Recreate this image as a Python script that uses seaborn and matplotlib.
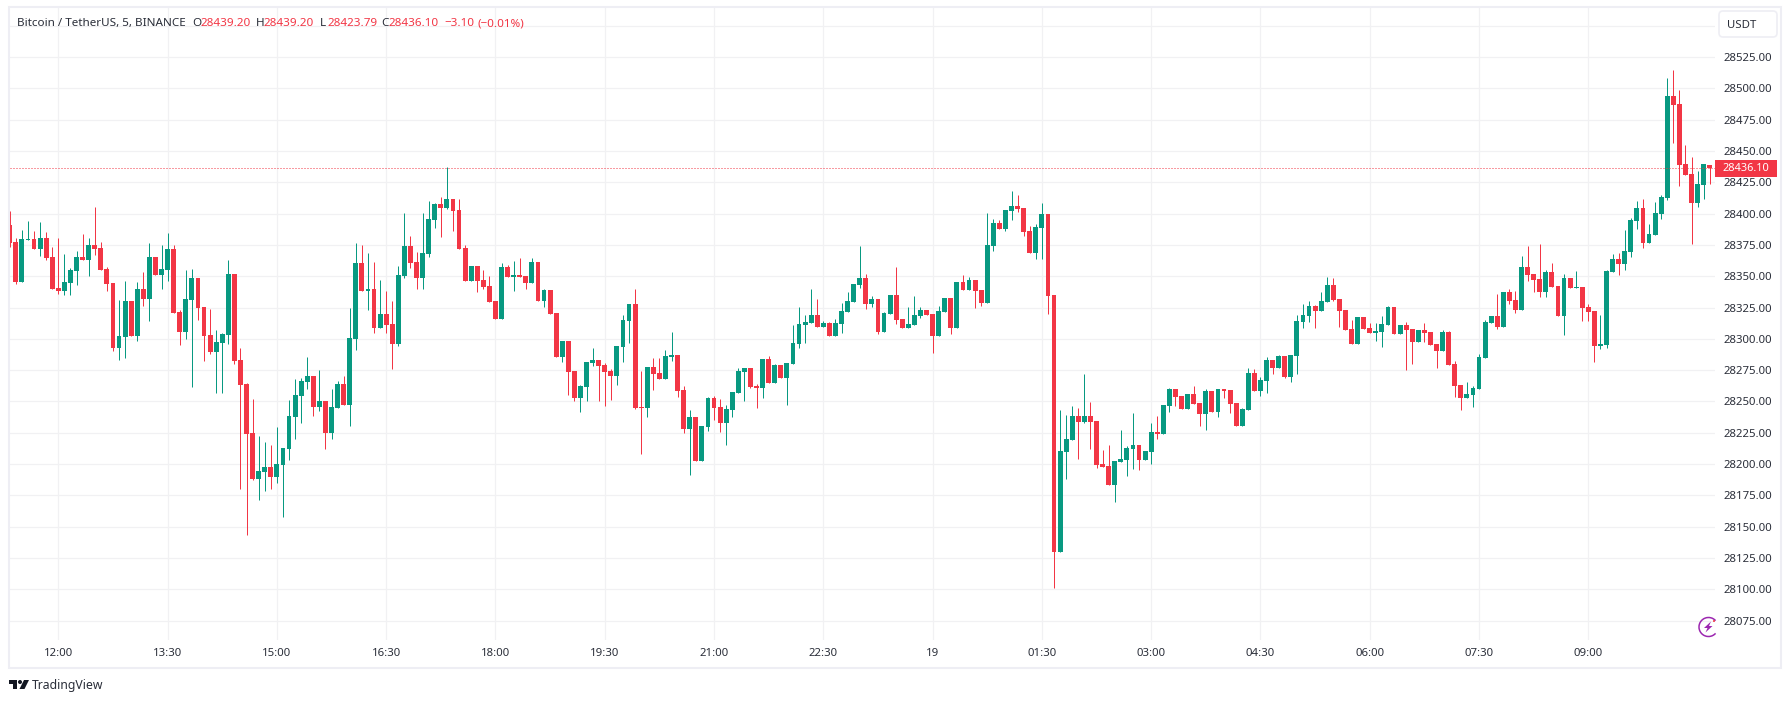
import numpy as np
import pandas as pd
import matplotlib
matplotlib.use("Agg")
import matplotlib.pyplot as plt
from matplotlib.patches import Arc, FancyBboxPatch, Polygon, Rectangle, Circle
import seaborn as sns

# 5 minute candles, first one is cut by the left edge
first_bar = -8

opens = [
    28390.9, 28377.3, 28345.4, 28378.9, 28379.7, 28371.8, 28380.5, 28365.4, 28340.6, 28338.2,
    28344.6, 28354.2, 28365.4, 28363.0, 28375.0, 28372.6, 28355.8, 28344.6, 28292.7, 28301.5,
    28330.2, 28302.3, 28339.8, 28331.8, 28365.4, 28351.0, 28355.0, 28371.8, 28321.4, 28305.5,
    28331.1, 28348.6, 28325.4, 28303.1, 28289.5, 28296.7, 28303.1, 28351.8, 28283.1, 28263.9,
    28224.8, 28188.1, 28193.6, 28197.6, 28189.7, 28199.2, 28212.0, 28237.6, 28254.3, 28265.5,
    28270.3, 28245.6, 28250.3, 28224.8, 28244.8, 28263.9, 28247.2, 28299.9, 28360.6, 28338.2,
    28339.8, 28308.6, 28319.8, 28311.8, 28295.9, 28350.2, 28374.1, 28361.4, 28348.6, 28367.7,
    28394.9, 28407.7, 28404.5, 28411.7, 28402.9, 28372.5, 28346.2, 28358.2, 28347.0, 28342.2,
    28330.2, 28315.9, 28357.4, 28349.4, 28351.0, 28350.2, 28344.6, 28361.4, 28330.2, 28339.0,
    28320.6, 28285.5, 28298.3, 28274.3, 28252.8, 28261.6, 28280.7, 28283.1, 28279.1, 28274.3,
    28270.3, 28293.5, 28314.3, 28327.8, 28245.6, 28244.8, 28277.5, 28272.7, 28268.0, 28285.5,
    28287.1, 28259.2, 28228.0, 28237.6, 28202.5, 28229.6, 28252.8, 28245.6, 28232.8, 28243.2,
    28256.8, 28273.5, 28276.8, 28262.4, 28260.8, 28283.9, 28264.8, 28279.1, 28268.8, 28279.9,
    28295.9, 28311.1, 28312.7, 28319.1, 28309.5, 28312.7, 28302.3, 28311.9, 28321.4, 28329.4,
    28343.0, 28348.6, 28327.8, 28331.8, 28305.5, 28319.9, 28335.0, 28315.9, 28308.7, 28311.1,
    28318.3, 28323.0, 28319.8, 28302.2, 28321.4, 28332.6, 28308.6, 28345.4, 28339.0, 28347.0,
    28339.0, 28328.6, 28374.1, 28392.5, 28387.7, 28402.1, 28406.1, 28404.5, 28386.1, 28368.5,
    28388.5, 28399.7, 28335.0, 28129.7, 28209.6, 28219.2, 28238.3, 28233.6, 28238.3, 28234.3,
    28200.0, 28198.4, 28183.2, 28201.6, 28203.2, 28212.0, 28215.2, 28203.2, 28209.6, 28225.6,
    28224.0, 28246.3, 28259.9, 28254.3, 28243.9, 28255.9, 28248.7, 28239.9, 28258.3, 28241.5,
    28259.9, 28259.1, 28248.7, 28230.3, 28243.1, 28272.7, 28258.3, 28266.3, 28283.1, 28276.7,
    28286.2, 28269.5, 28286.2, 28313.4, 28318.2, 28326.2, 28322.2, 28329.4, 28342.9, 28331.8,
    28323.0, 28307.8, 28295.8, 28317.4, 28308.6, 28304.6, 28305.4, 28311.0, 28325.4, 28303.9,
    28311.1, 28307.9, 28297.5, 28307.1, 28305.5, 28295.9, 28290.3, 28305.5, 28279.9, 28263.2,
    28252.8, 28255.2, 28260.0, 28284.7, 28312.7, 28318.3, 28309.5, 28337.4, 28331.0, 28323.1,
    28357.4, 28351.8, 28347.8, 28337.4, 28353.4, 28342.2, 28318.3, 28348.6, 28340.6, 28341.4,
    28325.4, 28322.3, 28294.3, 28295.1, 28353.4, 28363.8, 28359.7, 28369.3, 28394.0, 28404.4,
    28376.5, 28382.9, 28399.6, 28412.4, 28493.9, 28487.5, 28439.6, 28431.6, 28408.4, 28422.8,
    28439.2,
]
highs = [
    28402.1, 28380.5, 28386.9, 28394.1, 28386.1, 28393.3, 28385.3, 28373.4, 28380.5, 28367.8,
    28356.6, 28370.2, 28383.8, 28380.5, 28405.3, 28377.3, 28357.4, 28344.6, 28331.1, 28346.2,
    28330.2, 28345.4, 28353.4, 28376.6, 28365.4, 28375.0, 28384.5, 28375.0, 28323.0, 28355.0,
    28355.8, 28348.6, 28325.4, 28323.8, 28307.1, 28304.7, 28363.0, 28351.8, 28292.7, 28264.7,
    28251.9, 28222.4, 28217.6, 28215.2, 28229.6, 28212.8, 28251.1, 28267.9, 28268.7, 28285.5,
    28270.3, 28275.1, 28250.3, 28259.9, 28266.3, 28270.3, 28324.6, 28376.5, 28374.9, 28368.5,
    28361.4, 28347.0, 28338.2, 28330.2, 28358.2, 28400.5, 28382.1, 28369.3, 28400.5, 28410.1,
    28408.5, 28413.3, 28437.2, 28411.7, 28411.7, 28374.9, 28358.2, 28358.2, 28355.0, 28350.2,
    28330.2, 28360.6, 28359.0, 28362.2, 28364.6, 28350.2, 28364.6, 28361.4, 28339.8, 28339.0,
    28320.6, 28298.3, 28298.3, 28274.3, 28263.2, 28281.5, 28292.7, 28283.1, 28280.7, 28275.9,
    28294.3, 28319.1, 28327.8, 28339.8, 28274.3, 28277.5, 28284.7, 28284.7, 28291.1, 28305.5,
    28287.1, 28262.4, 28243.2, 28237.6, 28230.4, 28253.6, 28254.4, 28252.0, 28247.2, 28257.6,
    28276.8, 28276.8, 28276.8, 28264.0, 28283.9, 28286.3, 28279.9, 28279.1, 28280.7, 28311.1,
    28325.4, 28319.1, 28339.8, 28331.8, 28314.3, 28313.5, 28315.9, 28328.6, 28337.4, 28343.8,
    28374.2, 28351.8, 28334.2, 28331.8, 28321.4, 28335.0, 28357.4, 28315.9, 28325.4, 28334.2,
    28325.4, 28323.0, 28319.8, 28326.2, 28332.6, 28332.6, 28345.4, 28350.9, 28349.3, 28347.0,
    28339.0, 28400.5, 28395.7, 28394.9, 28402.9, 28418.0, 28414.8, 28404.5, 28390.1, 28391.7,
    28408.4, 28399.7, 28335.0, 28243.1, 28239.1, 28246.3, 28244.7, 28271.9, 28249.5, 28234.3,
    28211.2, 28215.2, 28202.4, 28227.2, 28214.4, 28240.7, 28215.2, 28210.4, 28232.8, 28238.3,
    28247.1, 28260.7, 28259.9, 28254.3, 28255.9, 28262.3, 28248.7, 28259.9, 28258.3, 28259.9,
    28259.9, 28259.1, 28248.7, 28244.7, 28276.7, 28275.9, 28269.5, 28285.5, 28283.1, 28287.0,
    28286.2, 28287.0, 28319.0, 28327.8, 28330.2, 28327.0, 28337.4, 28349.3, 28348.5, 28331.8,
    28323.0, 28315.0, 28317.4, 28317.4, 28312.6, 28312.6, 28318.2, 28326.2, 28325.4, 28311.1,
    28313.5, 28307.9, 28307.1, 28312.7, 28305.5, 28295.9, 28307.1, 28306.3, 28282.3, 28263.2,
    28265.6, 28262.4, 28287.9, 28315.1, 28318.3, 28335.8, 28337.4, 28339.8, 28338.2, 28366.2,
    28374.2, 28351.8, 28375.8, 28355.0, 28360.6, 28342.2, 28351.8, 28348.6, 28354.2, 28341.4,
    28327.8, 28322.3, 28319.1, 28355.0, 28367.8, 28368.6, 28386.9, 28396.4, 28410.0, 28411.6,
    28391.6, 28409.2, 28414.8, 28508.2, 28514.6, 28498.7, 28454.7, 28445.1, 28434.0, 28439.6,
    28439.2,
]
lows = [
    28373.4, 28343.8, 28345.4, 28378.9, 28371.8, 28366.2, 28363.0, 28339.8, 28335.8, 28335.0,
    28335.0, 28343.0, 28363.0, 28350.2, 28367.0, 28355.0, 28338.2, 28290.3, 28283.1, 28284.7,
    28302.3, 28298.3, 28326.2, 28314.3, 28351.0, 28339.8, 28346.2, 28320.6, 28295.1, 28299.9,
    28261.6, 28315.1, 28282.3, 28287.9, 28256.8, 28256.8, 28295.9, 28280.0, 28180.1, 28143.3,
    28187.3, 28171.3, 28178.5, 28180.1, 28184.9, 28157.7, 28203.2, 28220.0, 28232.8, 28259.9,
    28238.4, 28242.4, 28212.0, 28220.0, 28244.8, 28247.2, 28230.4, 28291.1, 28338.2, 28323.0,
    28304.7, 28308.6, 28304.7, 28275.9, 28294.3, 28348.6, 28356.6, 28339.8, 28339.8, 28365.3,
    28388.5, 28381.3, 28403.7, 28386.1, 28371.7, 28346.2, 28346.2, 28337.4, 28339.8, 28329.4,
    28315.9, 28315.9, 28349.4, 28338.2, 28349.4, 28339.8, 28344.6, 28330.2, 28325.4, 28319.9,
    28285.5, 28281.5, 28255.2, 28250.4, 28241.6, 28250.4, 28278.3, 28250.4, 28246.4, 28251.2,
    28263.2, 28281.5, 28296.7, 28244.0, 28208.1, 28237.6, 28259.2, 28268.0, 28268.0, 28282.3,
    28253.6, 28224.8, 28191.3, 28202.5, 28202.5, 28226.4, 28235.2, 28225.6, 28215.3, 28237.6,
    28256.8, 28250.4, 28260.8, 28244.8, 28252.8, 28264.8, 28264.8, 28268.8, 28247.2, 28279.9,
    28292.7, 28296.7, 28312.7, 28309.5, 28309.5, 28302.3, 28302.3, 28304.7, 28321.4, 28329.4,
    28340.6, 28323.8, 28325.4, 28303.9, 28305.5, 28319.9, 28311.9, 28308.7, 28308.7, 28311.1,
    28316.7, 28319.1, 28288.7, 28302.2, 28321.4, 28303.8, 28308.6, 28339.0, 28339.0, 28324.6,
    28326.2, 28328.6, 28370.1, 28387.7, 28386.1, 28394.9, 28401.3, 28382.1, 28368.5, 28363.7,
    28363.7, 28319.8, 28101.0, 28129.7, 28188.0, 28219.2, 28204.0, 28232.8, 28212.0, 28196.8,
    28197.6, 28183.2, 28169.7, 28201.6, 28190.4, 28196.0, 28195.2, 28203.2, 28200.0, 28220.0,
    28224.0, 28241.5, 28246.3, 28243.9, 28243.9, 28247.9, 28230.3, 28227.2, 28241.5, 28237.5,
    28252.7, 28240.7, 28230.3, 28230.3, 28243.1, 28258.3, 28254.3, 28256.7, 28271.9, 28276.7,
    28268.7, 28265.5, 28271.9, 28308.6, 28313.4, 28308.6, 28322.2, 28329.4, 28330.2, 28309.4,
    28307.0, 28295.8, 28295.8, 28307.8, 28304.6, 28298.2, 28293.4, 28311.0, 28303.9, 28303.9,
    28275.1, 28279.9, 28297.5, 28297.5, 28295.1, 28276.7, 28290.3, 28279.1, 28253.6, 28243.2,
    28252.8, 28245.6, 28260.0, 28284.7, 28312.7, 28307.9, 28309.5, 28327.8, 28320.7, 28323.1,
    28346.2, 28337.4, 28333.4, 28333.4, 28341.4, 28318.3, 28303.1, 28340.6, 28340.6, 28314.3,
    28314.3, 28281.5, 28291.9, 28292.7, 28353.4, 28351.0, 28354.9, 28365.3, 28387.6, 28372.5,
    28376.5, 28382.9, 28395.6, 28410.8, 28456.3, 28422.0, 28430.8, 28375.7, 28405.2, 28411.6,
    28423.8,
]
closes = [
    28376.6, 28345.4, 28379.7, 28379.7, 28371.8, 28380.5, 28364.6, 28339.8, 28338.2, 28345.4,
    28355.0, 28365.4, 28363.0, 28375.0, 28371.8, 28355.0, 28343.8, 28292.7, 28302.3, 28330.2,
    28302.3, 28339.8, 28331.8, 28365.4, 28351.0, 28355.8, 28371.8, 28320.6, 28305.5, 28331.8,
    28348.6, 28324.6, 28302.3, 28289.5, 28297.5, 28303.9, 28351.8, 28282.3, 28263.1, 28224.0,
    28188.1, 28194.4, 28197.6, 28189.7, 28200.0, 28212.8, 28238.4, 28255.1, 28266.3, 28270.3,
    28245.6, 28250.3, 28224.8, 28245.6, 28263.9, 28247.2, 28300.7, 28360.6, 28338.2, 28339.8,
    28308.6, 28319.8, 28311.0, 28295.9, 28351.0, 28374.1, 28360.6, 28348.6, 28368.5, 28395.7,
    28407.7, 28404.5, 28411.7, 28402.1, 28371.7, 28346.2, 28358.2, 28346.2, 28341.4, 28329.4,
    28315.9, 28357.4, 28349.4, 28351.0, 28349.4, 28344.6, 28361.4, 28330.2, 28339.0, 28319.9,
    28285.5, 28298.3, 28273.5, 28252.8, 28262.4, 28281.5, 28283.1, 28278.3, 28273.5, 28270.3,
    28294.3, 28315.1, 28327.8, 28244.8, 28244.8, 28277.5, 28271.9, 28268.0, 28286.3, 28287.1,
    28258.4, 28228.0, 28237.6, 28202.5, 28230.4, 28252.8, 28244.8, 28232.8, 28244.0, 28257.6,
    28274.3, 28276.8, 28261.6, 28260.8, 28283.9, 28264.8, 28279.1, 28268.8, 28280.7, 28296.7,
    28311.9, 28313.5, 28319.1, 28309.5, 28312.7, 28302.3, 28312.7, 28322.2, 28330.2, 28343.8,
    28348.6, 28327.8, 28331.8, 28305.5, 28320.6, 28335.0, 28315.1, 28308.7, 28311.9, 28319.1,
    28323.0, 28319.1, 28302.2, 28322.2, 28332.6, 28308.6, 28345.4, 28339.0, 28347.0, 28338.2,
    28328.6, 28374.9, 28392.5, 28387.7, 28402.9, 28406.1, 28403.7, 28385.3, 28368.5, 28389.3,
    28399.7, 28334.2, 28129.7, 28210.4, 28220.0, 28238.3, 28233.6, 28238.3, 28233.6, 28199.2,
    28197.6, 28183.2, 28202.4, 28204.0, 28212.8, 28215.2, 28203.2, 28210.4, 28225.6, 28224.0,
    28247.1, 28259.9, 28253.5, 28243.9, 28255.9, 28247.9, 28239.9, 28258.3, 28241.5, 28259.9,
    28258.3, 28247.9, 28230.3, 28243.9, 28272.7, 28258.3, 28267.1, 28283.1, 28276.7, 28286.2,
    28269.5, 28287.0, 28314.2, 28319.0, 28326.2, 28322.2, 28330.2, 28342.9, 28331.0, 28322.2,
    28307.0, 28295.8, 28317.4, 28307.8, 28304.6, 28306.2, 28311.8, 28325.4, 28303.9, 28311.1,
    28307.1, 28297.5, 28307.1, 28304.7, 28295.1, 28290.3, 28305.5, 28279.1, 28262.4, 28252.8,
    28256.0, 28260.8, 28285.5, 28313.5, 28318.3, 28309.5, 28337.4, 28330.2, 28323.1, 28357.4,
    28351.0, 28347.0, 28337.4, 28353.4, 28341.4, 28318.3, 28348.6, 28340.6, 28341.4, 28324.6,
    28321.5, 28294.3, 28295.9, 28354.2, 28363.8, 28359.8, 28370.1, 28394.8, 28404.4, 28376.5,
    28383.7, 28400.4, 28413.2, 28493.9, 28486.7, 28438.8, 28430.8, 28408.4, 28423.6, 28439.6,
    28436.1,
]

time_labels = ["12:00", "13:30", "15:00", "16:30", "18:00", "19:30", "21:00", "22:30",
               "19", "01:30", "03:00", "04:30", "06:00", "07:30", "09:00"]
price_ticks = list(range(28075, 28551, 25))

UP = "#089981"
DOWN = "#F23645"
GRID = "#F1F1F3"
FRAME = "#EEEEF4"
TEXT = "#2A2E39"

df = pd.DataFrame({"open": opens, "high": highs, "low": lows, "close": closes})
df["bar"] = np.arange(len(df)) + first_bar
df["up"] = df["close"] >= df["open"]
df["bottom"] = df[["open", "close"]].min(axis=1)
df["size"] = (df["open"] - df["close"]).abs()

sns.set_theme(style="whitegrid", rc={"axes.edgecolor": "white", "grid.color": GRID, "grid.linewidth": 0.9})
plt.rcParams["font.family"] = ["Noto Sans", "DejaVu Sans"]

W, H = 1789, 701
fig = plt.figure(figsize=(W / 100, H / 100), dpi=100, facecolor="white")

# plot area in screen pixels
left, right, top, bottom = 10, 1715, 7, 640
ax = fig.add_axes([left / W, 1 - bottom / H, (right - left) / W, (bottom - top) / H])

ax.vlines(df["bar"], df["low"], df["high"], colors=np.where(df["up"], UP, DOWN),
          linewidth=0.72, zorder=2, snap=True)
for is_up, colour in [(True, UP), (False, DOWN)]:
    part = df[df["up"] == is_up]
    sns.barplot(data=part, x="bar", y="size", bottom=part["bottom"].values, native_scale=True,
                width=0.8, gap=0, color=colour, saturation=1, errorbar=None, linewidth=0,
                zorder=3, ax=ax)

ax.axhline(closes[-1], color=DOWN, linewidth=0.72, linestyle=(0, (1, 2)), zorder=4, snap=True)

# 1 candle = 6.0714 px, 12:00 sits at 58.3 px
ax.set_xlim((left - 58.3) / 6.0714, (right - 58.3) / 6.0714)
ax.set_ylim(28425 - (bottom - 182.3) / 1.2523, 28425 + (182.3 - top) / 1.2523)
ax.set_xticks(np.arange(len(time_labels)) * 18)
ax.set_xticklabels(time_labels)
ax.set_yticks(price_ticks)
ax.set_yticklabels([f"{p}.00" if p < 28550 else "" for p in price_ticks])
ax.yaxis.tick_right()
ax.set_xlabel("")
ax.set_ylabel("")
ax.tick_params(axis="x", length=0, pad=5.5, labelsize=8.2, labelcolor=TEXT)
ax.tick_params(axis="y", length=0, pad=6, labelsize=8.2, labelcolor=TEXT)
ax.grid(True, zorder=0)
ax.set_axisbelow(True)
for s in ax.spines.values():
    s.set_visible(False)

# everything around the plot goes on an overlay in pixel coordinates
ov = fig.add_axes([0, 0, 1, 1], facecolor="none", zorder=5)
ov.set_xlim(0, W)
ov.set_ylim(H, 0)
ov.axis("off")

ov.add_patch(Rectangle((9, 6.5), 1771.5, 661, fill=False, edgecolor=FRAME, linewidth=1.5))

legend_parts = [
    (17, "Bitcoin / TetherUS, 5, BINANCE", TEXT),
    (192, "O", TEXT), (200.5, "28439.20", DOWN),
    (256, "H", TEXT), (263.5, "28439.20", DOWN),
    (320, "L", TEXT), (327, "28423.79", DOWN),
    (381, "C", TEXT), (388.5, "28436.10", DOWN),
    (444, "\u22123.10", DOWN), (478, "(\u22120.01%)", DOWN),
]
for x, label, colour in legend_parts:
    ov.text(x, 23.5, label, color=colour, fontsize=8.4, va="center", ha="left")

# price tag and currency button
ov.add_patch(Rectangle((1715, 160), 62, 16.5, facecolor=DOWN, edgecolor="none"))
ov.text(1746, 168.3, f"{closes[-1]:.2f}", color="white", fontsize=7.9, va="center", ha="center",
        fontweight="bold")
ov.add_patch(FancyBboxPatch((1721, 13), 54, 22, boxstyle="round,pad=2,rounding_size=4",
                            facecolor="white", edgecolor=FRAME, linewidth=1.2))
ov.text(1742, 25, "USDT", color=TEXT, fontsize=8.2, va="center", ha="center")

# TradingView mark
LOGO = "#131722"
ov.add_patch(Polygon([(9, 680), (17, 680), (17, 689), (13, 689), (13, 684), (9, 684)], facecolor=LOGO, edgecolor="none"))
ov.add_patch(Circle((20, 682), 2, facecolor=LOGO, edgecolor="none"))
ov.add_patch(Polygon([(24, 680), (29, 680), (24.5, 689), (19.5, 689)], facecolor=LOGO, edgecolor="none"))
ov.text(32, 685.5, "TradingView", color=TEXT, fontsize=8.8, va="center", ha="left")

# lightning badge, cut by the price scale
PURPLE = "#9C27B0"
ov.add_patch(Arc((1708.5, 627), 19, 19, theta1=42, theta2=318, color=PURPLE, linewidth=1.1))
ov.add_patch(Polygon([(1711, 621.5), (1704, 628), (1707.5, 628), (1705.5, 632.5), (1712.5, 626),
                      (1709, 626)], facecolor=PURPLE, edgecolor="none"))
ov.add_patch(Circle((1714, 621), 1, facecolor=DOWN, edgecolor="none"))

fig.savefig("out.png", dpi=100, facecolor="white")
